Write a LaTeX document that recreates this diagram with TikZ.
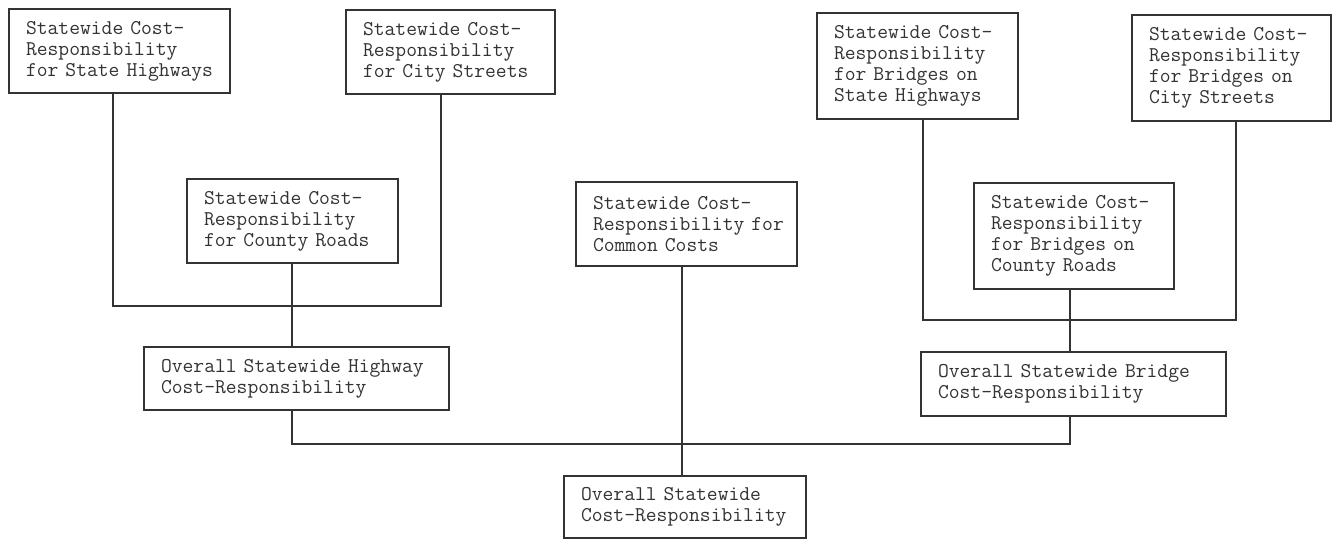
\documentclass[tikz,border=0pt]{standalone}
\usepackage{fontspec}
\definecolor{ink}{HTML}{333333}
\begin{document}
\begin{tikzpicture}[x=1pt,y=-1pt,
  box/.style={draw=ink, line width=1.3pt, rectangle, inner xsep=17pt, inner ysep=0pt,
    align=left, text=ink, font=\ttfamily\fontsize{21}{21}\selectfont},
  link/.style={draw=ink, line width=1.3pt}]
\useasboundingbox (0,0) rectangle (1334,539);
\node[box, minimum width=221pt, minimum height=84pt, text width=187pt] (A) at (119.5,51)
  {\mbox{Statewide Cost-}\\\mbox{Responsibility}\\\mbox{for State Highways}};
\node[box, minimum width=209pt, minimum height=84pt, text width=175pt] (B) at (450.5,52)
  {\mbox{Statewide Cost-}\\\mbox{Responsibility}\\\mbox{for City Streets}};
\node[box, minimum width=211pt, minimum height=84pt, text width=177pt] (C) at (292.5,221)
  {\mbox{Statewide Cost-}\\\mbox{Responsibility}\\\mbox{for County Roads}};
\node[box, minimum width=221pt, minimum height=84pt, text width=187pt] (D) at (686.5,224)
  {\mbox{Statewide Cost-}\\\mbox{Responsibility for}\\\mbox{Common Costs}};
\node[box, minimum width=201pt, minimum height=106pt, text width=167pt] (E) at (917.5,66)
  {\mbox{Statewide Cost-}\\\mbox{Responsibility}\\\mbox{for Bridges on}\\\mbox{State Highways}};
\node[box, minimum width=199pt, minimum height=106pt, text width=165pt] (F) at (1231.5,68)
  {\mbox{Statewide Cost-}\\\mbox{Responsibility}\\\mbox{for Bridges on}\\\mbox{City Streets}};
\node[box, minimum width=200pt, minimum height=106pt, text width=166pt] (G) at (1074,236)
  {\mbox{Statewide Cost-}\\\mbox{Responsibility}\\\mbox{for Bridges on}\\\mbox{County Roads}};
\node[box, minimum width=305pt, minimum height=63pt, text width=271pt] (H) at (296.5,378.5)
  {\mbox{Overall Statewide Highway}\\\mbox{Cost-Responsibility}};
\node[box, minimum width=305pt, minimum height=64pt, text width=271pt] (I) at (1073.5,384)
  {\mbox{Overall Statewide Bridge}\\\mbox{Cost-Responsibility}};
\node[box, minimum width=242pt, minimum height=62pt, text width=208pt] (J) at (685,507)
  {\mbox{Overall Statewide}\\\mbox{Cost-Responsibility}};
\coordinate (hb) at (292,306);
\coordinate (bb) at (1070,320);
\coordinate (mid) at (682,444);
\draw[link] ([xshift=-6.5pt]A.south) |- (hb) -| ([xshift=-9.5pt]B.south);
\draw[link] (C.south -| hb) -- (H.north -| hb);
\draw[link] (H.south -| hb) |- (mid) -| (I.south -| bb);
\draw[link] (D.south -| mid) -- (J.north -| mid);
\draw[link] ([xshift=5.5pt]E.south) |- (bb) -| ([xshift=4.5pt]F.south);
\draw[link] (G.south -| bb) -- (I.north -| bb);
\end{tikzpicture}
\end{document}
